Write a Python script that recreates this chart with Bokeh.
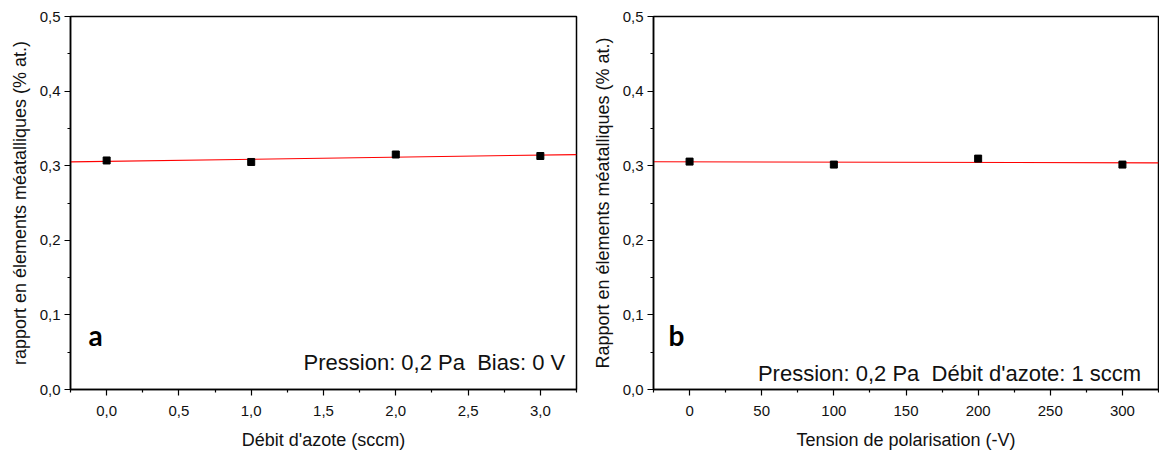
import numpy as np
from bokeh.plotting import figure
from bokeh.layouts import row
from bokeh.models import FixedTicker, CustomJSTickFormatter, Label
from bokeh.embed import file_html
from bokeh.resources import INLINE

# ---- data ----
debit = [0.0, 1.0, 2.0, 3.0]
ratio_a = [0.307, 0.305, 0.315, 0.313]
tension = [0, 100, 200, 300]
ratio_b = [0.3055, 0.3015, 0.3095, 0.3015]

y_ticks = [0.0, 0.1, 0.2, 0.3, 0.4, 0.5]
y_minor = [0.05, 0.15, 0.25, 0.35, 0.45]
xa_ticks = [0.0, 0.5, 1.0, 1.5, 2.0, 2.5, 3.0]
xa_minor = [-0.25, 0.25, 0.75, 1.25, 1.75, 2.25, 2.75, 3.25]
xb_ticks = [0, 50, 100, 150, 200, 250, 300]
xb_minor = [-25, 25, 75, 125, 175, 225, 275, 325]

xa_range = (-0.25, 3.25)
xb_range = (-25, 325)

FONT = "Liberation Sans"


def style(p, xt, xm, yt, ym, xfmt):
    p.xgrid.visible = False
    p.ygrid.visible = False
    p.outline_line_color = "black"
    p.outline_line_width = 1.5
    p.background_fill_color = "white"
    p.border_fill_color = "white"
    p.xaxis.ticker = FixedTicker(ticks=xt, minor_ticks=xm)
    p.yaxis.ticker = FixedTicker(ticks=yt, minor_ticks=ym)
    p.xaxis.formatter = CustomJSTickFormatter(code=xfmt)
    p.yaxis.formatter = CustomJSTickFormatter(code="return tick.toFixed(1).replace('.', ',');")
    for ax in (p.xaxis[0], p.yaxis[0]):
        ax.axis_line_width = 1.5
        ax.axis_line_color = "black"
        ax.major_tick_line_color = "black"
        ax.minor_tick_line_color = "black"
        ax.major_tick_line_width = 1.2
        ax.minor_tick_line_width = 1.2
        ax.major_tick_out = 6
        ax.major_tick_in = 0
        ax.minor_tick_out = 3
        ax.minor_tick_in = 0
        ax.major_label_text_font = FONT
        ax.major_label_text_font_size = "15px"
        ax.major_label_text_color = "#111111"
        ax.axis_label_text_font = FONT
        ax.axis_label_text_font_size = "18px"
        ax.axis_label_text_font_style = "normal"
        ax.axis_label_text_color = "#111111"
    p.xaxis.major_label_standoff = 10
    p.yaxis.major_label_standoff = 4
    p.xaxis.axis_label_standoff = 11
    p.yaxis.axis_label_standoff = 7


def panel(x, y, xr, width, height, bl, br, bb, xlabel, ylabel, xt, xm, xfmt,
          letter, letter_x, letter_y, note, note_x, note_y):
    p = figure(width=width, height=height, x_range=xr, y_range=(0.0, 0.5),
               output_backend="svg", toolbar_location=None,
               min_border_left=bl, min_border_right=br, min_border_top=16, min_border_bottom=bb)
    style(p, xt, xm, y_ticks, y_minor, xfmt)
    p.xaxis.axis_label = xlabel
    p.yaxis.axis_label = ylabel
    # linear fit drawn across the full axis range
    k, b = np.polyfit(np.array(x, dtype=float), np.array(y, dtype=float), 1)
    xs = np.array(xr, dtype=float)
    p.line(xs, k * xs + b, line_color="#ff0000", line_width=1.1)
    p.scatter(x, y, marker="square", size=7, fill_color="black", line_color="black")
    p.add_layout(Label(x=letter_x, y=letter_y, text=letter, text_font="Lato",
                       text_font_style="bold", text_font_size="28px", text_color="black",
                       text_baseline="alphabetic"))
    p.add_layout(Label(x=note_x, y=note_y, text=note, text_font=FONT,
                       text_font_size="22px", text_color="#111111",
                       text_align="right", text_baseline="alphabetic"))
    return p


p1 = panel(debit, ratio_a, xa_range, 584, 452, 70, 8, 61,
           "Débit d'azote (sccm)", "rapport en élements méatalliques (% at.)",
           xa_ticks, xa_minor, "return tick.toFixed(1).replace('.', ',');",
           "a", -0.125, 0.073, "Pression: 0,2 Pa\u00a0\u00a0Bias: 0 V", 3.172, 0.036)
p2 = panel(tension, ratio_b, xb_range, 575, 452, 69, 1, 58,
           "Tension de polarisation (-V)", "Rapport en élements méatalliques (% at.)",
           xb_ticks, xb_minor, "return tick.toFixed(0);",
           "b", -14.6, 0.073, "Pression: 0,2 Pa\u00a0\u00a0Débit d'azote: 1 sccm", 313.0, 0.022)

layout = row(p1, p2)
open("out.html", "w").write(file_html(layout, INLINE))
